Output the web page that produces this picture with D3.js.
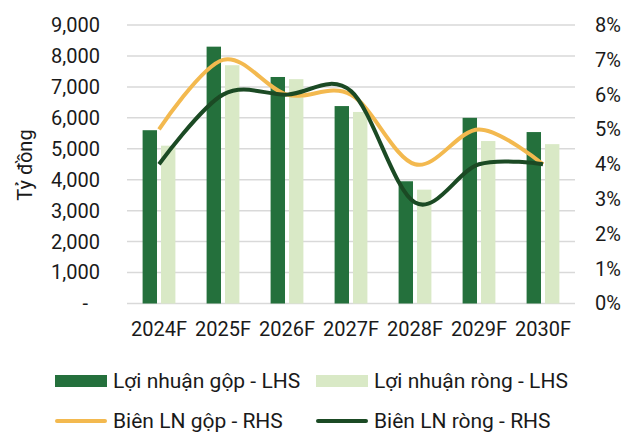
<!DOCTYPE html>
<html>
<head>
<meta charset="utf-8">
<script src="https://cdn.jsdelivr.net/npm/d3@7"></script>
<style>
  body { margin: 0; background: #fff; }
  svg text { font-family: Roboto, "Noto Sans", sans-serif; fill: #1a1a1a; }
</style>
</head>
<body>
<svg width="637" height="432"></svg>
<script>
// Data
var years = ['2024F', '2025F', '2026F', '2027F', '2028F', '2029F', '2030F'];
var grossProfit = [5600, 8300, 7320, 6380, 3950, 6000, 5540]; // Lợi nhuận gộp (tỷ đồng)
var netProfit = [5100, 7700, 7250, 6190, 3680, 5250, 5150];   // Lợi nhuận ròng (tỷ đồng)
var grossMargin = [0.05, 0.07, 0.06, 0.06, 0.04, 0.05, 0.04]; // Biên LN gộp
var netMargin = [0.04, 0.06, 0.06, 0.061, 0.029, 0.04, 0.04];  // Biên LN ròng
var leftTicks = [0, 1000, 2000, 3000, 4000, 5000, 6000, 7000, 8000, 9000];
var rightTicks = [0, 0.01, 0.02, 0.03, 0.04, 0.05, 0.06, 0.07, 0.08];

var colDark = '#24703c', colLight = '#d9e9c6', colGold = '#f3b94f', colLine = '#1b4a24';

var svg = d3.select('svg');
var plotL = 127, plotR = 575, plotT = 25, plotB = 303.5;

var x0 = d3.scaleBand().domain(years).range([plotL, plotR]);
var x1 = d3.scaleBand().domain(['g', 'n']).range([15.6, 48.4]).paddingInner(0.217);
var yL = d3.scaleLinear().domain([0, 9000]).range([plotB, plotT]);
var yR = d3.scaleLinear().domain([0, 0.08]).range([plotB, plotT]);

// gridlines
svg.append('g')
	.selectAll('line')
	.data(leftTicks)
	.enter()
	.append('line')
	.attr('x1', plotL)
	.attr('x2', plotR)
	.attr('y1', function(d) {return yL(d);})
	.attr('y2', function(d) {return yL(d);})
	.style('stroke', '#d9d9d9')
	.style('stroke-width', '1.5px');

// left axis
var axL = svg.append('g')
	.attr('transform', 'translate(100,0)')
	.call(d3.axisLeft(yL).tickValues(leftTicks).tickSize(0).tickPadding(0)
		.tickFormat(function(d) {return d === 0 ? '-' : d3.format(',')(d);}));
axL.select('.domain').remove();
axL.selectAll('text').style('font-size', '20px').attr('dx', function(d) {return d === 0 ? '-12' : 0;});

// right axis
var axR = svg.append('g')
	.attr('transform', 'translate(595,0)')
	.call(d3.axisRight(yR).tickValues(rightTicks).tickSize(0).tickPadding(0)
		.tickFormat(d3.format('.0%')));
axR.select('.domain').remove();
axR.selectAll('text').style('font-size', '20px');

// x axis labels
var axX = svg.append('g')
	.attr('transform', 'translate(0,' + (plotB + 18) + ')')
	.call(d3.axisBottom(x0).tickSize(0).tickPadding(0));
axX.select('.domain').remove();
axX.selectAll('text').style('font-size', '20px');

// y title
svg.append('text')
	.attr('transform', 'translate(32,165) rotate(-90)')
	.attr('text-anchor', 'middle')
	.style('font-size', '20px')
	.text('Tỷ đồng');

// bars
var barData = [];
years.forEach(function(y, i) {
	barData.push({year: y, key: 'g', v: grossProfit[i]});
	barData.push({year: y, key: 'n', v: netProfit[i]});
});
svg.append('g')
	.selectAll('rect')
	.data(barData)
	.enter()
	.append('rect')
	.attr('x', function(d) {return x0(d.year) + x1(d.key);})
	.attr('width', x1.bandwidth())
	.attr('y', function(d) {return yL(d.v);})
	.attr('height', function(d) {return plotB - yL(d.v);})
	.style('fill', function(d) {return d.key === 'g' ? colDark : colLight;});

// smooth lines
var line = d3.line()
	.x(function(d, i) {return x0(years[i]) + x0.bandwidth() / 2;})
	.y(function(d) {return yR(d);})
	.curve(d3.curveCatmullRom.alpha(0));

svg.append('path')
	.datum(grossMargin)
	.attr('d', line)
	.style('fill', 'none')
	.style('stroke', colGold)
	.style('stroke-width', '4px');
svg.append('path')
	.datum(netMargin)
	.attr('d', line)
	.style('fill', 'none')
	.style('stroke', colLine)
	.style('stroke-width', '4px');

// legend
var legend = [
	{label: 'Lợi nhuận gộp - LHS', type: 'bar', c: colDark, x: 55, y: 381},
	{label: 'Lợi nhuận ròng - LHS', type: 'bar', c: colLight, x: 316, y: 381},
	{label: 'Biên LN gộp - RHS', type: 'line', c: colGold, x: 55, y: 421},
	{label: 'Biên LN ròng - RHS', type: 'line', c: colLine, x: 316, y: 421}
];
var lg = svg.append('g')
	.selectAll('g')
	.data(legend)
	.enter()
	.append('g')
	.attr('transform', function(d) {return 'translate(' + d.x + ',' + d.y + ')';});
lg.append('rect')
	.attr('x', 0)
	.attr('width', 52)
	.attr('y', function(d) {return d.type === 'bar' ? -6 : -2;})
	.attr('height', function(d) {return d.type === 'bar' ? 12 : 4;})
	.attr('rx', function(d) {return d.type === 'bar' ? 0 : 2;})
	.style('fill', function(d) {return d.c;});
lg.append('text')
	.attr('x', 58)
	.attr('dy', '0.35em')
	.style('font-size', '21px')
	.text(function(d) {return d.label;});
</script>
</body>
</html>
